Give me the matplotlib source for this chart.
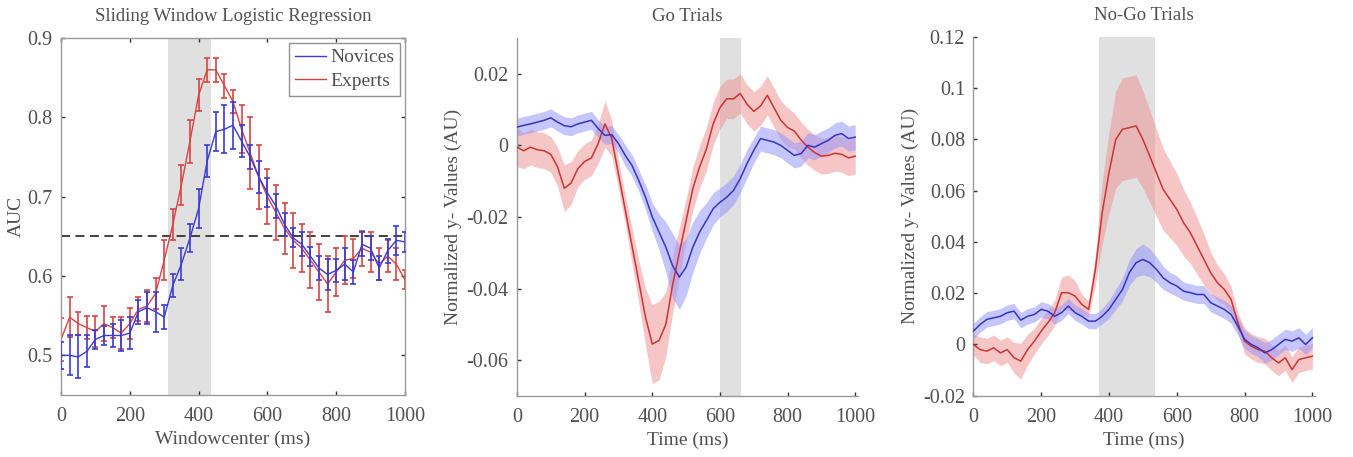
import numpy as np
import matplotlib
matplotlib.use("Agg")
import matplotlib.pyplot as plt

plt.rcParams['font.family'] = ['Liberation Serif', 'DejaVu Serif']
plt.rcParams['axes.linewidth'] = 1.0

# ---- panel 1: sliding window logistic regression (AUC) ----
win_center = [0, 25, 50, 75, 100, 125, 150, 175, 200, 225, 250, 275, 300, 325, 350,
              375, 400, 425, 450, 475, 500, 525, 550, 575, 600, 625, 650, 675, 700,
              725, 750, 775, 800, 825, 850, 875, 900, 925, 950, 975, 1000]
auc_experts = [0.52, 0.548, 0.54, 0.535, 0.53, 0.54, 0.535, 0.528, 0.54, 0.558, 0.562,
               0.578, 0.62, 0.665, 0.715, 0.77, 0.828, 0.86, 0.86, 0.84, 0.82, 0.785,
               0.755, 0.725, 0.7, 0.68, 0.66, 0.645, 0.635, 0.62, 0.605, 0.59, 0.605,
               0.62, 0.622, 0.635, 0.63, 0.615, 0.625, 0.615, 0.595]
auc_experts_err = [0.027, 0.025, 0.015, 0.015, 0.02, 0.022, 0.013, 0.02, 0.02, 0.015,
                   0.02, 0.02, 0.025, 0.02, 0.025, 0.027, 0.02, 0.015, 0.015, 0.015,
                   0.015, 0.03, 0.045, 0.04, 0.035, 0.035, 0.032, 0.035, 0.03, 0.035,
                   0.035, 0.035, 0.03, 0.03, 0.025, 0.022, 0.025, 0.02, 0.02, 0.02, 0.012]
auc_novices = [0.5, 0.5, 0.498, 0.505, 0.52, 0.525, 0.525, 0.525, 0.528, 0.555, 0.56,
               0.555, 0.548, 0.588, 0.615, 0.648, 0.685, 0.745, 0.782, 0.785, 0.79,
               0.77, 0.75, 0.725, 0.705, 0.688, 0.665, 0.648, 0.64, 0.625, 0.61, 0.602,
               0.607, 0.615, 0.605, 0.64, 0.635, 0.61, 0.632, 0.645, 0.643]
auc_novices_err = [0.017, 0.025, 0.027, 0.02, 0.012, 0.012, 0.015, 0.02, 0.02, 0.015,
                   0.02, 0.025, 0.015, 0.015, 0.02, 0.018, 0.025, 0.02, 0.025, 0.03,
                   0.03, 0.02, 0.015, 0.02, 0.018, 0.015, 0.015, 0.012, 0.015, 0.012,
                   0.015, 0.02, 0.015, 0.02, 0.015, 0.015, 0.015, 0.015, 0.015, 0.018, 0.013]
chance_level = 0.65

# ---- panels 2 and 3: time courses, sampled every 20 ms ----
time_ms = [0, 20, 40, 60, 80, 100, 120, 140, 160, 180, 200, 220, 240, 260, 280, 300,
           320, 340, 360, 380, 400, 420, 440, 460, 480, 500, 520, 540, 560, 580, 600,
           620, 640, 660, 680, 700, 720, 740, 760, 780, 800, 820, 840, 860, 880, 900,
           920, 940, 960, 980, 1000]

go_novices = [0.0051, 0.0056, 0.006, 0.0065, 0.007, 0.0077, 0.0065, 0.0055, 0.0052,
              0.006, 0.0065, 0.007, 0.0047, 0.0028, 0.003, 0.0005, -0.0028, -0.0056,
              -0.0098, -0.0145, -0.02, -0.0242, -0.0284, -0.0336, -0.0368, -0.034,
              -0.0284, -0.0242, -0.021, -0.0177, -0.0159, -0.0145, -0.0126, -0.0093,
              -0.0051, -0.0014, 0.0019, 0.0014, 0.0009, 0.0, -0.0014, -0.0028, -0.0023,
              0.0, -0.0005, 0.0005, 0.0014, 0.0028, 0.0033, 0.0019, 0.0023]
go_novices_sem = [0.0025, 0.0025, 0.0025, 0.0025, 0.0025, 0.0025, 0.0025, 0.0025, 0.0025,
                  0.0025, 0.0025, 0.0025, 0.0025, 0.0025, 0.0025, 0.0025, 0.003, 0.003,
                  0.003, 0.0035, 0.004, 0.005, 0.007, 0.009, 0.009, 0.008, 0.007, 0.006,
                  0.005, 0.0045, 0.004, 0.004, 0.004, 0.004, 0.004, 0.0035, 0.0035, 0.0035,
                  0.0035, 0.0035, 0.0035, 0.0035, 0.0035, 0.0035, 0.0035, 0.0035, 0.0035,
                  0.0035, 0.0035, 0.0035, 0.0035]
go_experts = [-0.0005, -0.0015, -0.0005, -0.0012, -0.0015, -0.0025, -0.006, -0.012,
              -0.0105, -0.0065, -0.0045, -0.0035, 0.0005, 0.006, 0.002, -0.008, -0.018,
              -0.028, -0.038, -0.048, -0.0555, -0.0545, -0.05, -0.039, -0.03, -0.021,
              -0.012, -0.006, -0.001, 0.006, 0.0105, 0.013, 0.013, 0.0145, 0.0115, 0.0095,
              0.011, 0.014, 0.0105, 0.007, 0.005, 0.004, 0.0015, -0.0005, -0.002, -0.003,
              -0.0028, -0.0022, -0.0025, -0.0035, -0.003]
go_experts_sem = [0.0055, 0.005, 0.005, 0.005, 0.005, 0.005, 0.0055, 0.0065, 0.006,
                  0.005, 0.005, 0.005, 0.0055, 0.0065, 0.005, 0.004, 0.004, 0.005, 0.006,
                  0.008, 0.011, 0.011, 0.009, 0.008, 0.007, 0.006, 0.006, 0.006, 0.006,
                  0.006, 0.006, 0.0055, 0.0055, 0.0055, 0.0055, 0.0055, 0.0055, 0.0055,
                  0.0055, 0.0055, 0.0055, 0.005, 0.005, 0.005, 0.005, 0.005, 0.005, 0.005,
                  0.005, 0.005, 0.005]

nogo_novices = [0.0052, 0.0078, 0.0098, 0.0104, 0.011, 0.0124, 0.013, 0.0095, 0.011,
                0.0117, 0.0137, 0.013, 0.011, 0.0124, 0.015, 0.0124, 0.011, 0.0091, 0.0091,
                0.011, 0.0137, 0.0176, 0.0215, 0.028, 0.0319, 0.0332, 0.0319, 0.0293,
                0.026, 0.0241, 0.0228, 0.0208, 0.0202, 0.0195, 0.0195, 0.0163, 0.015,
                0.0137, 0.0117, 0.0072, 0.002, 0.0, -0.0013, -0.0033, -0.002, 0.0, 0.002,
                0.0013, 0.0026, 0.0, 0.0026]
nogo_novices_sem = [0.003, 0.003, 0.003, 0.003, 0.003, 0.003, 0.003, 0.003, 0.003, 0.003,
                    0.003, 0.003, 0.003, 0.003, 0.003, 0.003, 0.003, 0.003, 0.003, 0.003,
                    0.0035, 0.004, 0.0045, 0.005, 0.0055, 0.006, 0.0055, 0.005, 0.0045,
                    0.004, 0.004, 0.0035, 0.0035, 0.0035, 0.0035, 0.0035, 0.0035, 0.0035,
                    0.0035, 0.0035, 0.0035, 0.0035, 0.0035, 0.004, 0.004, 0.004, 0.004,
                    0.004, 0.004, 0.004, 0.004]
nogo_experts = [0.0, -0.002, -0.0026, -0.0013, -0.0033, -0.002, -0.0052, -0.0065, -0.002,
                0.0013, 0.0052, 0.0085, 0.0124, 0.0202, 0.0202, 0.0189, 0.0156, 0.0137,
                0.0293, 0.0514, 0.067, 0.08, 0.084, 0.0846, 0.0853, 0.08, 0.0736, 0.067,
                0.0605, 0.0566, 0.0527, 0.0475, 0.0436, 0.0384, 0.0332, 0.028, 0.0241,
                0.0215, 0.0176, 0.0085, 0.0013, -0.0007, -0.002, -0.0026, -0.0052, -0.0072,
                -0.0052, -0.0098, -0.0059, -0.0052, -0.0046]
nogo_experts_sem = [0.004, 0.005, 0.005, 0.005, 0.005, 0.005, 0.006, 0.007, 0.006, 0.005,
                    0.005, 0.005, 0.005, 0.006, 0.007, 0.006, 0.004, 0.003, 0.006, 0.012,
                    0.016, 0.019, 0.02, 0.02, 0.02, 0.019, 0.018, 0.017, 0.016, 0.015,
                    0.014, 0.013, 0.012, 0.011, 0.01, 0.008, 0.007, 0.006, 0.005, 0.004,
                    0.005, 0.005, 0.005, 0.005, 0.005, 0.005, 0.005, 0.005, 0.005, 0.005,
                    0.005]

# significant windows (grey shading)
auc_window = (312, 437)
go_window = (600, 662)
nogo_window = (371, 537)

blue = '#3b3bd6'
red = '#d84444'
blue_fill = '#8f8fff'
red_fill = '#ee8f8f'
txt = '#505050'
spine_col = '#9a9a9a'
band_col = '#e0e0e0'

tick_fs = 14.5
label_fs = 14
title_fs = 13.5

fig = plt.figure(figsize=(13.53, 4.57), dpi=100)

def style_axes(ax, full_box):
    for s in ['left', 'bottom', 'top', 'right']:
        ax.spines[s].set_color(spine_col)
    if not full_box:
        ax.spines['top'].set_visible(False)
        ax.spines['right'].set_visible(False)
    ax.tick_params(direction='in', length=3, width=1, color='#333333',
                   labelsize=tick_fs, labelcolor=txt, top=full_box, right=full_box)
    ax.tick_params(axis='x', pad=9)
    ax.tick_params(axis='y', pad=6)

# ---------- panel 1 ----------
ax1 = fig.add_axes([0.0451, 0.1357, 0.2542, 0.781])
ax1.axvspan(auc_window[0], auc_window[1], color=band_col, zorder=0, lw=0)
ax1.plot([0, 1000], [chance_level, chance_level], '--', color='#333333', lw=1.3,
         dashes=(5, 3), zorder=1)
ax1.errorbar(win_center, auc_novices, yerr=auc_novices_err, color=blue, lw=1.0,
             elinewidth=1.2, capsize=2.5, capthick=1.2, label='Novices', zorder=3)
ax1.errorbar(win_center, auc_experts, yerr=auc_experts_err, color=red, lw=1.0,
             elinewidth=1.2, capsize=2.5, capthick=1.2, label='Experts', zorder=2)
ax1.set_xlim(0, 1000)
ax1.set_ylim(0.45, 0.9)
ax1.set_xticks([0, 200, 400, 600, 800, 1000])
ax1.set_yticks([0.5, 0.6, 0.7, 0.8, 0.9])
ax1.set_yticklabels(['0.5', '0.6', '0.7', '0.8', '0.9'])
style_axes(ax1, True)
ax1.set_title('Sliding Window Logistic Regression', fontsize=title_fs, color=txt, pad=12)
ax1.set_xlabel('Windowcenter (ms)', fontsize=label_fs, color=txt, labelpad=3)
ax1.set_ylabel('AUC', fontsize=label_fs, color=txt, labelpad=2)
handles, labels = ax1.get_legend_handles_labels()
handles = [h[0] for h in handles]
leg = ax1.legend(handles, labels, loc='upper right', fontsize=14, frameon=True,
                 fancybox=False, edgecolor='#777777', handlelength=1.6,
                 handletextpad=0.2, borderpad=0.3, labelspacing=0.3,
                 borderaxespad=0.25, labelcolor=txt)
leg.get_frame().set_linewidth(1.0)

# ---------- panel 2 ----------
ax2 = fig.add_axes([0.3821, 0.1335, 0.252, 0.7834])
ax2.axvspan(go_window[0], go_window[1], color=band_col, zorder=0, lw=0)
t = np.array(time_ms)
gn, gns = np.array(go_novices), np.array(go_novices_sem)
ge, ges = np.array(go_experts), np.array(go_experts_sem)
ax2.fill_between(t, ge - ges, ge + ges, color=red_fill, alpha=0.5, lw=0, zorder=1)
ax2.fill_between(t, gn - gns, gn + gns, color=blue_fill, alpha=0.5, lw=0, zorder=2)
ax2.plot(t, ge, color='#cc3333', lw=1.1, zorder=3)
ax2.plot(t, gn, color='#3535c0', lw=1.1, zorder=4)
ax2.set_xlim(0, 1008)
ax2.set_ylim(-0.07, 0.03)
ax2.set_xticks([0, 200, 400, 600, 800, 1000])
ax2.set_yticks([-0.06, -0.04, -0.02, 0, 0.02])
ax2.set_yticklabels(['-0.06', '-0.04', '-0.02', '0', '0.02'])
style_axes(ax2, False)
ax2.set_title('Go Trials', fontsize=title_fs, color=txt, pad=12)
ax2.set_xlabel('Time (ms)', fontsize=label_fs, color=txt, labelpad=3)
ax2.set_ylabel('Normalized y- Values (AU)', fontsize=label_fs, color=txt, labelpad=3)

# ---------- panel 3 ----------
ax3 = fig.add_axes([0.7194, 0.1341, 0.2526, 0.785])
ax3.axvspan(nogo_window[0], nogo_window[1], color=band_col, zorder=0, lw=0)
nn, nns = np.array(nogo_novices), np.array(nogo_novices_sem)
ne, nes = np.array(nogo_experts), np.array(nogo_experts_sem)
ax3.fill_between(t, ne - nes, ne + nes, color=red_fill, alpha=0.5, lw=0, zorder=1)
ax3.fill_between(t, nn - nns, nn + nns, color=blue_fill, alpha=0.5, lw=0, zorder=2)
ax3.plot(t, ne, color='#cc3333', lw=1.1, zorder=3)
ax3.plot(t, nn, color='#3535c0', lw=1.1, zorder=4)
ax3.set_xlim(0, 1008)
ax3.set_ylim(-0.02, 0.12)
ax3.set_xticks([0, 200, 400, 600, 800, 1000])
ax3.set_yticks([-0.02, 0, 0.02, 0.04, 0.06, 0.08, 0.1, 0.12])
ax3.set_yticklabels(['-0.02', '0', '0.02', '0.04', '0.06', '0.08', '0.1', '0.12'])
style_axes(ax3, False)
ax3.set_title('No-Go Trials', fontsize=title_fs, color=txt, pad=12)
ax3.set_xlabel('Time (ms)', fontsize=label_fs, color=txt, labelpad=3)
ax3.set_ylabel('Normalized y- Values (AU)', fontsize=label_fs, color=txt, labelpad=3)

fig.savefig('out.png', dpi=100)
